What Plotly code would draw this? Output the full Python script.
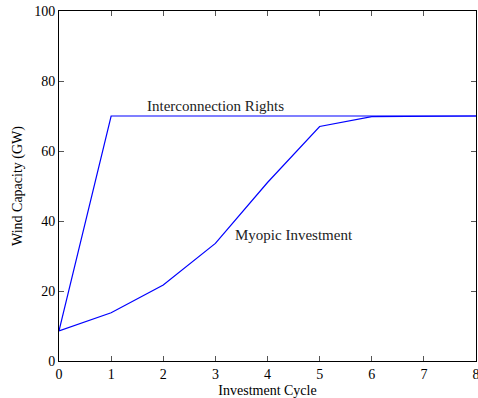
import plotly.graph_objects as go

cycles = [0, 1, 2, 3, 4, 5, 6, 7, 8]
interconnection = [8.6, 70, 70, 70, 70, 70, 70, 70, 70]
myopic = [8.6, 13.8, 21.7, 33.6, 51.0, 67.0, 69.8, 70, 70]
x_ticks = [0, 1, 2, 3, 4, 5, 6, 7, 8]
y_ticks = [0, 20, 40, 60, 80, 100]

font = "Liberation Serif, DejaVu Serif, serif"

fig = go.Figure()
fig.add_trace(go.Scatter(x=cycles, y=interconnection, mode="lines",
                         line=dict(color="#0000ff", width=1.2), name="Interconnection Rights"))
fig.add_trace(go.Scatter(x=cycles, y=myopic, mode="lines",
                         line=dict(color="#0000ff", width=1.2), name="Myopic Investment"))

fig.add_annotation(x=3.0, y=73, text="Interconnection Rights", showarrow=False,
                   font=dict(family=font, size=15, color="#222"))
fig.add_annotation(x=4.5, y=36, text="Myopic Investment", showarrow=False,
                   font=dict(family=font, size=15, color="#222"))

axis_common = dict(showgrid=False, zeroline=False, showline=True, linecolor="black",
                   linewidth=1, mirror="ticks", ticks="inside", ticklen=5,
                   tickcolor="#555", tickfont=dict(family=font, size=14, color="black"),
                   ticklabeloverflow="allow", automargin=False)

fig.update_xaxes(range=[0, 8], tickvals=x_ticks,
                 title=dict(text="Investment Cycle", font=dict(family=font, size=14, color="black"), standoff=6),
                 **axis_common)
fig.update_yaxes(range=[0, 100], tickvals=y_ticks,
                 title=dict(text="Wind Capacity (GW)", font=dict(family=font, size=14, color="black"), standoff=8),
                 **axis_common)

fig.update_layout(width=478, height=398, margin=dict(l=59, r=2, t=11, b=37),
                  plot_bgcolor="white", paper_bgcolor="white", showlegend=False)

fig.write_html("out.html", config={"displayModeBar": False},
               post_script="document.body.style.margin='0';document.body.style.overflow='hidden';")
